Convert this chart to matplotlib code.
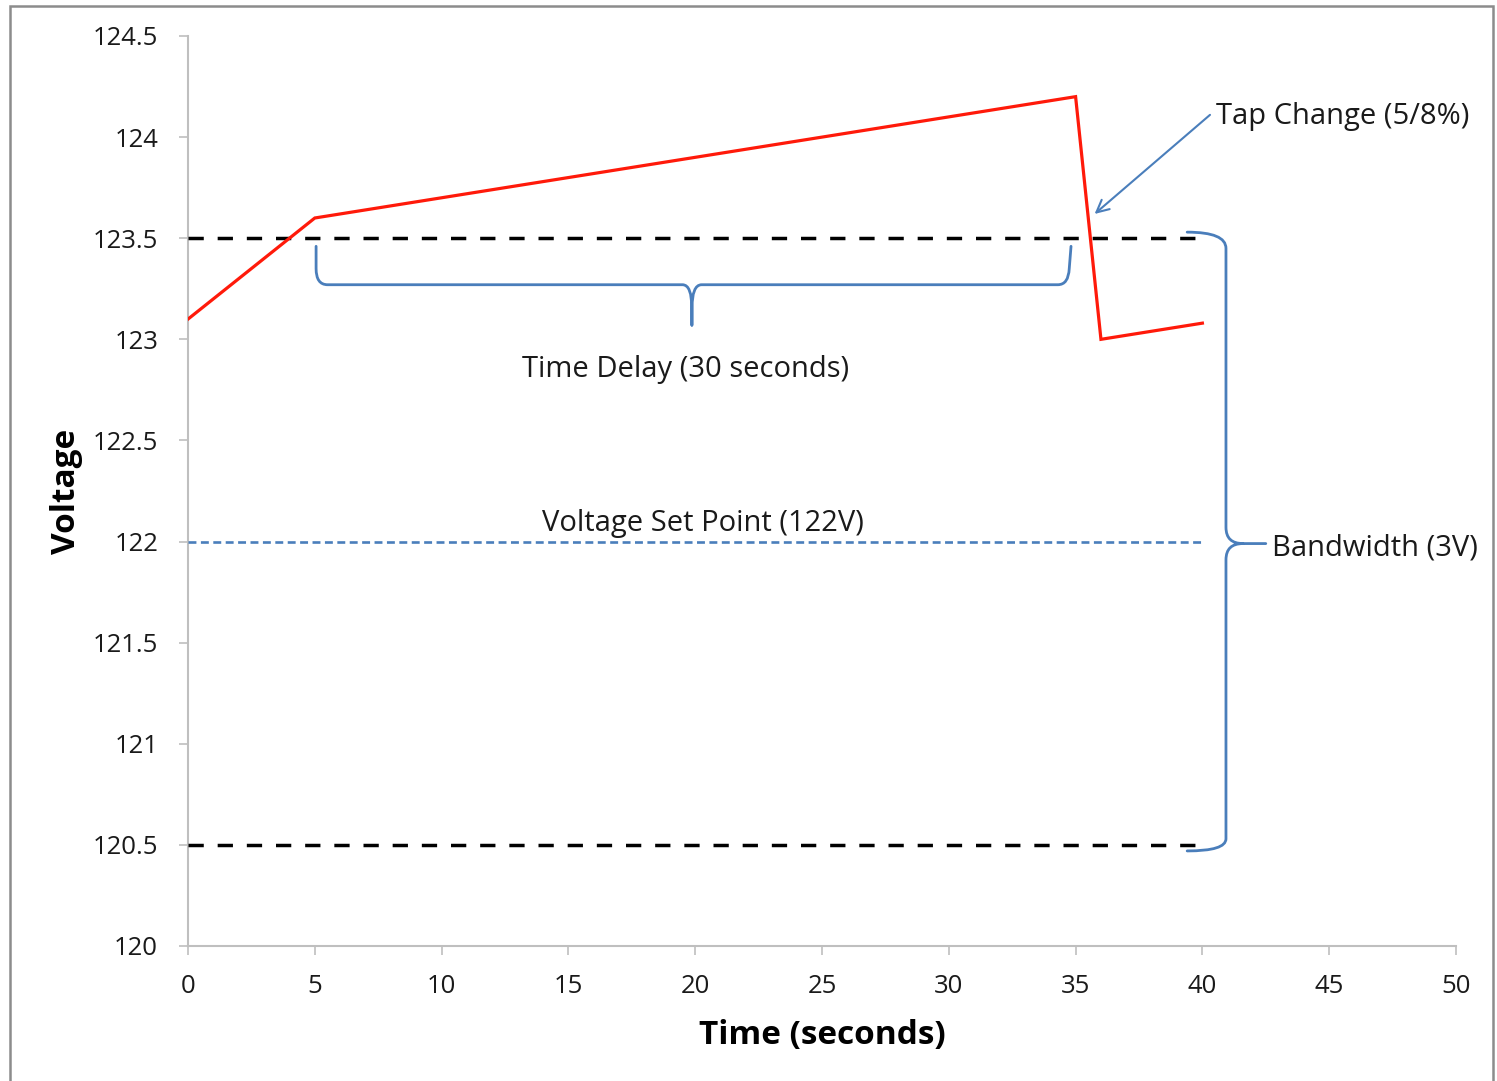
import matplotlib.pyplot as plt
from matplotlib.patches import PathPatch, Rectangle
from matplotlib.path import Path

plt.rcParams["font.family"] = ["Open Sans", "DejaVu Sans"]

# voltage trace
time_s = [0, 5, 35, 36, 40]
voltage = [123.1, 123.6, 124.2, 123.0, 123.08]

# reference levels
set_point = 122.0
upper_band = 123.5
lower_band = 120.5
band_end = 39.8
set_end = 40.0

x_ticks = [0, 5, 10, 15, 20, 25, 30, 35, 40, 45, 50]
y_ticks = [120, 120.5, 121, 121.5, 122, 122.5, 123, 123.5, 124, 124.5]
y_tick_labels = ["120", "120.5", "121", "121.5", "122", "122.5", "123", "123.5", "124", "124.5"]

BLUE = "#4a7ebb"
GREY = "#bfbfbf"
TXT = "#1a1a1a"

M, L, C = Path.MOVETO, Path.LINETO, Path.CURVE3


def brace_patch(verts, codes):
    return PathPatch(Path(verts, codes), fill=False, edgecolor=BLUE, lw=2.0,
                     capstyle="round", joinstyle="round", clip_on=False, zorder=5)


fig = plt.figure(figsize=(14.97, 10.81), dpi=100)
ax = fig.add_axes([0.1256, 0.1249, 0.847, 0.8418])

ax.plot(time_s, voltage, color="#ff1a0a", lw=2.3, solid_joinstyle="miter", zorder=4)
ax.plot([0, band_end], [upper_band, upper_band], color="black", lw=2.5,
        linestyle=(0, (4.4, 4.0)), zorder=3)
ax.plot([0, band_end], [lower_band, lower_band], color="black", lw=2.5,
        linestyle=(0, (4.4, 4.0)), zorder=3)
ax.plot([0, set_end], [set_point, set_point], color=BLUE, lw=1.9,
        linestyle=(0, (3.0, 1.7)), zorder=3)

# horizontal brace (time delay)
h_verts = [(5.05, 123.46), (5.05, 123.35), (5.05, 123.27), (5.5, 123.27),
           (19.5, 123.27), (19.87, 123.27), (19.87, 123.15), (19.87, 123.07),
           (19.87, 123.15), (19.87, 123.27), (20.25, 123.27),
           (34.3, 123.27), (34.72, 123.27), (34.75, 123.35), (34.82, 123.46)]
h_codes = [M, L, C, C, L, C, C, L, L, C, C, L, C, C, L]
ax.add_patch(brace_patch(h_verts, h_codes))

# vertical brace (bandwidth)
v_verts = [(39.4, 123.53), (40.93, 123.53), (40.93, 123.45),
           (40.93, 122.07), (40.93, 121.99), (41.6, 121.99), (42.5, 121.99),
           (41.6, 121.99), (40.93, 121.99), (40.93, 121.91),
           (40.93, 120.53), (40.93, 120.47), (39.4, 120.47)]
v_codes = [M, C, C, L, C, C, L, M, C, C, L, C, C]
ax.add_patch(brace_patch(v_verts, v_codes))

ax.annotate("", xy=(35.75, 123.62), xytext=(40.3, 124.11),
            arrowprops=dict(arrowstyle="->", color=BLUE, lw=1.5,
                            mutation_scale=22, shrinkA=0, shrinkB=0),
            annotation_clip=False)
ax.text(40.55, 124.1, "Tap Change (5/8%)", fontsize=21, color=TXT,
        ha="left", va="center", clip_on=False)
ax.text(19.6, 122.85, "Time Delay (30 seconds)", fontsize=21, color=TXT,
        ha="center", va="center")
ax.text(20.3, 122.09, "Voltage Set Point (122V)", fontsize=21, color=TXT,
        ha="center", va="center")
ax.text(42.75, 121.97, "Bandwidth (3V)", fontsize=21, color=TXT,
        ha="left", va="center", clip_on=False)

ax.set_xlim(0, 50)
ax.set_ylim(120, 124.5)
ax.set_xticks(x_ticks)
ax.set_yticks(y_ticks)
ax.set_yticklabels(y_tick_labels)
ax.tick_params(axis="both", direction="out", length=6.5, width=1.2, color=GREY,
               labelsize=18.5, labelcolor=TXT)
ax.tick_params(axis="y", pad=15)
ax.tick_params(axis="x", pad=14)
for side in ("top", "right"):
    ax.spines[side].set_visible(False)
for side in ("left", "bottom"):
    ax.spines[side].set_color(GREY)
    ax.spines[side].set_linewidth(1.5)

ax.set_xlabel("Time (seconds)", fontsize=24, fontweight="bold", color="black", labelpad=14)
ax.set_ylabel("Voltage", fontsize=24, fontweight="bold", color="black", labelpad=7)

fig.patches.append(Rectangle((0.0067, -0.05), 0.9906, 1.0444, transform=fig.transFigure,
                             fill=False, edgecolor="#8c8c8c", lw=1.8))

fig.savefig("out.png", dpi=100)
